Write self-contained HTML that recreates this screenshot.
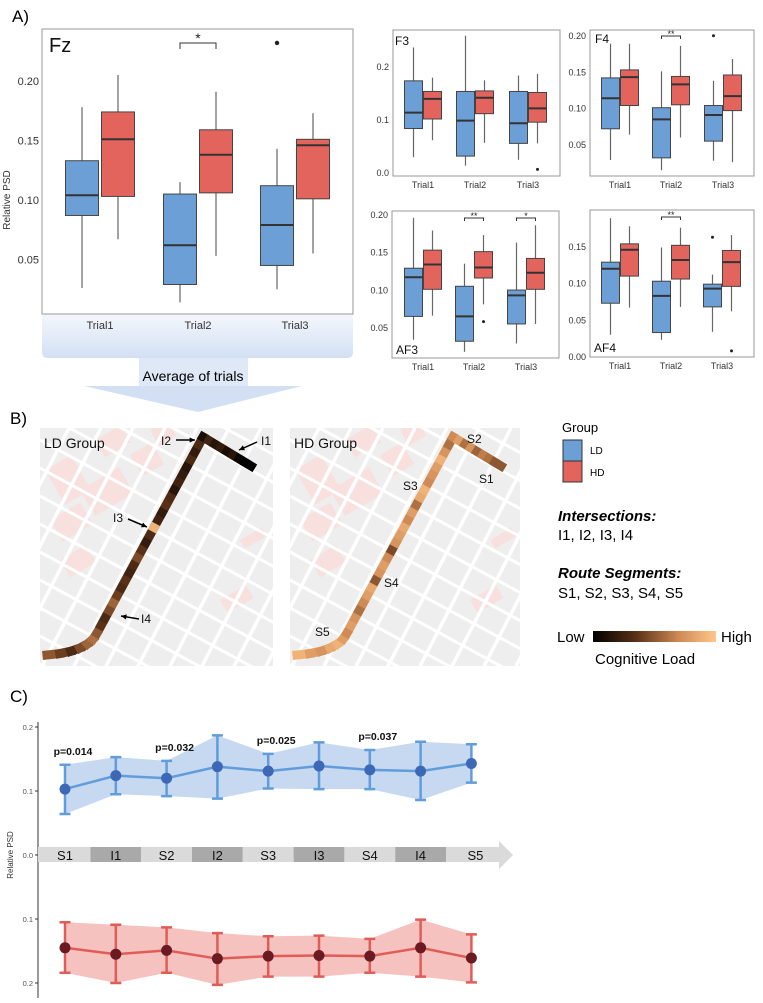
<!DOCTYPE html>
<html><head><meta charset="utf-8">
<style>
html,body{margin:0;padding:0;background:#fff;}
body{width:763px;height:1003px;overflow:hidden;font-family:"Liberation Sans",sans-serif;}
svg{display:block;}
</style></head>
<body>
<svg id="fig" width="763" height="1003" viewBox="0 0 763 1003" xmlns="http://www.w3.org/2000/svg" font-family="Liberation Sans, sans-serif">
<defs>
<linearGradient id="panelGrad" x1="0" y1="0" x2="0" y2="1"><stop offset="0" stop-color="#f4f7fc"/><stop offset="1" stop-color="#d3e0f4"/></linearGradient>
<linearGradient id="loadGrad" x1="0" y1="0" x2="1" y2="0"><stop offset="0" stop-color="#000"/><stop offset="0.35" stop-color="#5a3117"/><stop offset="0.7" stop-color="#d08a55"/><stop offset="1" stop-color="#ffc78a"/></linearGradient>
<clipPath id="clipLD"><rect x="40" y="428" width="233" height="238"/></clipPath>
<clipPath id="clipHD"><rect x="290" y="428" width="230" height="238"/></clipPath>
</defs>
<text x="12" y="22" font-size="17">A)</text>
<text x="10" y="424" font-size="17">B)</text>
<text x="10" y="702" font-size="17">C)</text>
<g>
<path d="M42,314 H353 V352 Q353,358 347,358 H48 Q42,358 42,352 Z" fill="url(#panelGrad)"/>
<rect x="139" y="358" width="109" height="28" fill="#dfe8f7"/>
<polygon points="84,386 302,386 198,412" fill="#d3e0f4"/>
<text x="193" y="381" font-size="14" text-anchor="middle">Average of trials</text>
</g>
<g id="boxes"></g>
<g id="maps"></g>
<g>
<text x="562" y="432" font-size="13">Group</text>
<rect x="563" y="440" width="19" height="21" fill="#6b9fd6" stroke="#333"/>
<rect x="563" y="461" width="19" height="21" fill="#e3645d" stroke="#333"/>
<text x="590" y="454" font-size="10">LD</text>
<text x="590" y="476" font-size="10">HD</text>
<text x="558" y="521" font-size="15" font-weight="bold" font-style="italic">Intersections:</text>
<text x="558" y="540" font-size="15">I1, I2, I3, I4</text>
<text x="558" y="578" font-size="15" font-weight="bold" font-style="italic">Route Segments:</text>
<text x="558" y="598" font-size="15">S1, S2, S3, S4, S5</text>
<text x="557" y="642" font-size="15">Low</text>
<rect x="593" y="631" width="123" height="11" fill="url(#loadGrad)"/>
<text x="721" y="642" font-size="15">High</text>
<text x="595" y="664" font-size="15">Cognitive Load</text>
</g>
<g id="lineChart"></g>
</svg>
<script>
const trials = ["Trial1","Trial2","Trial3"];
const fzLD = [[0.026,0.087,0.104,0.133,0.178],[0.014,0.029,0.062,0.105,0.115],[0.025,0.045,0.079,0.112,0.143]];
const fzHD = [[0.067,0.103,0.151,0.174,0.205],[0.053,0.106,0.138,0.159,0.191],[0.055,0.101,0.146,0.151,0.173]];
const fzOutLD = [[],[],[0.232]];
const fzOutHD = [[],[],[]];
const f3LD = [[0.028,0.082,0.112,0.172,0.235],[0.012,0.030,0.097,0.152,0.257],[0.023,0.054,0.092,0.152,0.182]];
const f3HD = [[0.060,0.100,0.138,0.152,0.178],[0.055,0.110,0.140,0.153,0.173],[0.054,0.094,0.120,0.150,0.185]];
const f3OutLD = [[],[],[]];
const f3OutHD = [[],[],[0.005]];
const f4LD = [[0.028,0.071,0.113,0.141,0.188],[0.014,0.031,0.084,0.100,0.150],[0.027,0.054,0.090,0.103,0.137]];
const f4HD = [[0.063,0.103,0.142,0.152,0.188],[0.059,0.104,0.132,0.143,0.185],[0.025,0.096,0.116,0.145,0.167]];
const f4OutLD = [[],[],[0.199]];
const f4OutHD = [[],[],[]];
const af3LD = [[0.033,0.064,0.116,0.128,0.195],[0.017,0.031,0.064,0.104,0.134],[0.028,0.054,0.092,0.099,0.162]];
const af3HD = [[0.065,0.100,0.133,0.152,0.178],[0.080,0.115,0.129,0.150,0.172],[0.054,0.100,0.122,0.141,0.185]];
const af3OutLD = [[],[],[]];
const af3OutHD = [[],[0.057],[]];
const af4LD = [[0.029,0.072,0.119,0.128,0.188],[0.022,0.032,0.082,0.102,0.148],[0.033,0.067,0.092,0.098,0.111]];
const af4HD = [[0.066,0.109,0.145,0.153,0.177],[0.067,0.105,0.131,0.151,0.175],[0.061,0.095,0.128,0.144,0.165]];
const af4OutLD = [[],[],[0.162]];
const af4OutHD = [[],[],[0.007]];

const segments = ["S1","I1","S2","I2","S3","I3","S4","I4","S5"];
const ldMean = [0.103,0.124,0.120,0.138,0.131,0.139,0.133,0.131,0.143];
const ldLow  = [0.064,0.095,0.092,0.088,0.104,0.103,0.103,0.086,0.113];
const ldHigh = [0.141,0.153,0.147,0.187,0.158,0.176,0.164,0.177,0.173];
const hdMean = [0.145,0.155,0.149,0.162,0.158,0.157,0.158,0.145,0.161];
const hdLow  = [0.105,0.109,0.113,0.122,0.127,0.126,0.131,0.101,0.124];
const hdHigh = [0.184,0.200,0.184,0.203,0.190,0.190,0.184,0.190,0.199];
const pLabels = ["p=0.014","p=0.032","p=0.025","p=0.037"];
const pIndex = [0,2,4,6];
const yTicksC = [0.2,0.1,0.0];

const ldLoad = [0.5,0.4,0.3,0.45,0.55,0.6,0.5,0.35,0.3,0.45,0.55,0.4,0.3,0.35,0.25,0.3,0.45,0.35,0.2,0.3,0.9,0.25,0.2,0.35,0.3,0.15,0.25,0.2,0.15,0.3,0.2,0.3,0.1,0.25,0.15,0.2,0.1,0.15,0.05,0.0];
const hdLoad = [0.9,0.8,0.75,0.85,0.9,0.8,0.7,0.8,0.75,0.6,0.7,0.8,0.85,0.5,0.75,0.8,0.7,0.45,0.75,0.8,0.85,0.7,0.8,0.6,0.85,0.9,0.7,0.75,0.8,0.9,0.75,0.6,0.7,0.8,0.6,0.75,0.55,0.65,0.6,0.5];

const NS="http://www.w3.org/2000/svg";
function mk(tag, attrs, parent){const e=document.createElementNS(NS,tag);for(const k in attrs)e.setAttribute(k,attrs[k]);if(parent)parent.appendChild(e);return e;}
const boxes=document.getElementById('boxes');

function drawPanel(name, frame, yf, centers, off, bw, ld, hd, outLD, outHD, ticks, tickX, tickFont, title, titlePos, brackets){
  const big=tickFont>10;
  const g=mk('g',{},boxes);
  
  
  const fr=mk('rect',{x:frame[0],y:frame[1],width:frame[2],height:frame[3],fill:'#fff',stroke:'#999','stroke-width':1},g);
  
  
  ticks.forEach(t=>{
    const tx=mk('text',{x:tickX,y:yf(t)+4,'font-size':tickFont,'text-anchor':'end',fill:'#333'},g);
    tx.textContent=t.toFixed(name==='f3'?1:2);
    
    
  });
  trials.forEach((tr,i)=>{
    const lb=mk('text',{x:centers[i],y:frame[1]+frame[3]+(big?15:12),'font-size':tickFont,'text-anchor':'middle',fill:'#333'},g);
    lb.textContent=tr;
    
    
    [[ld,outLD,'#6b9fd6',-off,'ld'],[hd,outHD,'#e3645d',off,'hd']].forEach(([d,o,col,dx,gname])=>{
      const s=d[i], cx=centers[i]+dx;
      const wl=mk('line',{x1:cx,x2:cx,y1:yf(s[0]),y2:yf(s[4]),stroke:'#666','stroke-width':1.2},g);
      
      
      const r=mk('rect',{x:cx-bw/2,y:yf(s[3]),width:bw,height:yf(s[1])-yf(s[3]),fill:col,stroke:'#444','stroke-width':1},g);
      
      
      const md=mk('line',{x1:cx-bw/2,x2:cx+bw/2,y1:yf(s[2]),y2:yf(s[2]),stroke:'#333','stroke-width':2},g);
      
      
      o[i].forEach(v=>{
        const c=mk('circle',{cx:cx,cy:yf(v),r:big?2.2:1.5,fill:'#222'},g);
        
        
      });
    });
  });
  const tt=mk('text',{x:titlePos[0],y:titlePos[1],'font-size':big?20:12,fill:'#111'},g);
  tt.textContent=title;
  
  
  brackets.forEach(b=>{
    const i=b[0], y=b[1], h=big?6:3;
    const x1=centers[i]-off, x2=centers[i]+off;
    const p=mk('path',{d:`M${x1},${y+h} V${y} H${x2} V${y+h}`,fill:'none',stroke:'#333','stroke-width':1},g);
    
    
    const st=mk('text',{x:(x1+x2)/2,y:y+(big?0:1),'font-size':big?14:9,'text-anchor':'middle',fill:'#222'},g);
    st.textContent=b[2];
    
    
  });
}
drawPanel('fz',[42,29,311,285],v=>81+(0.20-v)*1190,[100,198,295],18,33,fzLD,fzHD,fzOutLD,fzOutHD,[0.20,0.15,0.10,0.05],39,11,'Fz',[49,52],[[1,43,'*']]);
const yl=mk('text',{x:0,y:0,'font-size':10,'text-anchor':'middle',fill:'#333',transform:'translate(10,200) rotate(-90)'},boxes);
yl.textContent='Relative PSD';


drawPanel('f3',[393,30,167,146],v=>172-v*530,[423,475,528],9.5,18,f3LD,f3HD,f3OutLD,f3OutHD,[0.2,0.1,0.0],389,9,'F3',[395,45],[]);
drawPanel('f4',[590,30,164,146],v=>35+(0.2-v)*727,[620,671,723],9.5,18,f4LD,f4HD,f4OutLD,f4OutHD,[0.20,0.15,0.10,0.05],586,9,'F4',[595,43],[[1,36,'**']]);
drawPanel('af3',[392,211,167,147],v=>214+(0.2-v)*753,[423,474,526],9.5,18,af3LD,af3HD,af3OutLD,af3OutHD,[0.20,0.15,0.10,0.05],388,9,'AF3',[396,354],[[1,218,'**'],[2,218,'*']]);
drawPanel('af4',[590,210,164,147],v=>356-v*733,[620,671,722],9.5,18,af4LD,af4HD,af4OutLD,af4OutHD,[0.15,0.10,0.05,0.00],586,9,'AF4',[594,352],[[1,217,'**']]);

const maps=document.getElementById('maps');
function lerpCol(t){
  const stops=[[0,[0,0,0]],[0.35,[90,49,23]],[0.7,[208,138,85]],[1,[255,199,138]]];
  for(let i=1;i<stops.length;i++){if(t<=stops[i][0]){const a=stops[i-1],b=stops[i];const f=(t-a[0])/(b[0]-a[0]);return 'rgb('+a[1].map((c,k)=>Math.round(c+(b[1][k]-c)*f)).join(',')+')';}}
  return 'rgb(255,199,138)';
}
function drawMap(name, dx, clip, loads, labels){
  const g=mk('g',{'clip-path':'url(#'+clip+')'},maps);
  
  
  mk('rect',{x:40+dx,y:428,width:240,height:240,fill:'#efeeee'},g);
  [[45,470,30,40],[80,490,45,30],[50,520,35,25],[95,440,30,20],[130,455,25,25],[60,560,30,20],[150,430,20,18],[220,600,30,15],[240,540,25,10]].forEach(b=>{
    mk('rect',{x:b[0]+dx,y:b[1],width:b[2],height:b[3],fill:'#f8e0df',transform:`rotate(-30 ${b[0]+dx} ${b[1]})`},g);
  });
  for(let k=-6;k<10;k++){
    mk('line',{x1:40+dx+k*32,y1:670,x2:40+dx+k*32+125,y2:428,stroke:'#fff','stroke-width':3.5},g);
  }
  for(let k=-4;k<12;k++){
    mk('line',{x1:40+dx,y1:440+k*28,x2:280+dx,y2:440+k*28+130,stroke:'#fff','stroke-width':3},g);
  }
  const pts=[];
  const P=[[47,655],[75,648],[97,633],[203,437],[251,466]];
  for(let i=0;i<=6;i++){const t=i/6;const x=(1-t)*(1-t)*P[0][0]+2*(1-t)*t*88+t*t*P[2][0];const y=(1-t)*(1-t)*P[0][1]+2*(1-t)*t*652+t*t*P[2][1];pts.push([x,y]);}
  for(let i=1;i<=26;i++){const t=i/26;pts.push([P[2][0]+(P[3][0]-P[2][0])*t,P[2][1]+(P[3][1]-P[2][1])*t]);}
  for(let i=1;i<=8;i++){const t=i/8;pts.push([P[3][0]+(P[4][0]-P[3][0])*t,P[3][1]+(P[4][1]-P[3][1])*t]);}
  for(let i=0;i<pts.length-1;i++){
    const v=loads[Math.min(i,loads.length-1)];
    const s=mk('line',{x1:pts[i][0]+dx,y1:pts[i][1],x2:pts[i+1][0]+dx,y2:pts[i+1][1],stroke:lerpCol(v),'stroke-width':9,'stroke-linecap':'square'},g);
    
    
  }
  const tl=mk('text',{x:44+dx,y:448,'font-size':14,fill:'#111'},maps);
  tl.textContent=name==='ld'?'LD Group':'HD Group';
  
  
  labels.forEach(l=>{
    const t=mk('text',{x:l[1]+dx,y:l[2],'font-size':12,fill:'#111'},maps);
    t.textContent=l[0];
    
    
    if(l[3]){
      const a=l[3];
      const ln=mk('line',{x1:a[0]+dx,y1:a[1],x2:a[2]+dx,y2:a[3],stroke:'#000','stroke-width':1.5},maps);
      
      
      const ang=Math.atan2(a[3]-a[1],a[2]-a[0]);const hx=a[2]+dx,hy=a[3];
      mk('polygon',{points:`${hx},${hy} ${hx-6*Math.cos(ang-0.45)},${hy-6*Math.sin(ang-0.45)} ${hx-6*Math.cos(ang+0.45)},${hy-6*Math.sin(ang+0.45)}`,fill:'#000'},maps);
    }
  });
}
drawMap('ld',0,'clipLD',ldLoad,[['I2',161,445,[176,440,195,440]],['I1',261,445,[257,442,239,450]],['I3',113,522,[128,519,147,527]],['I4',141,623,[139,619,121,616]]]);
drawMap('hd',250,'clipHD',hdLoad,[['S2',217,443],['S1',229,483],['S3',153,490],['S4',134,587],['S5',65,636]]);

const lc=document.getElementById('lineChart');
const xC=i=>65+i*50.8;
const yUp=v=>855-v*640;
const yDn=v=>855+v*640;
mk('line',{x1:38,y1:722,x2:38,y2:998,stroke:'#333','stroke-width':1},lc);
yTicksC.forEach(t=>{
  [yUp(t), t>0?yDn(t):null].forEach(y=>{
    if(y===null)return;
    mk('line',{x1:35,x2:38,y1:y,y2:y,stroke:'#333'},lc);
    const tx=mk('text',{x:33,y:y+3,'font-size':7.5,'text-anchor':'end',fill:'#555'},lc);
    tx.textContent=t.toFixed(1);
    
    
  });
});
const yc=mk('text',{x:0,y:0,'font-size':8,'text-anchor':'middle',fill:'#333',transform:'translate(13,855) rotate(-90)'},lc);
yc.textContent='Relative PSD';


const arrowG=mk('g',{},lc);


segments.forEach((s,i)=>{
  const x0=i===0?38:xC(i)-25.4, x1=i===segments.length-1?500:xC(i)+25.4;
  const r=mk('rect',{x:x0,y:847,width:x1-x0,height:15,fill:i%2?'#a9a9a9':'#dadada'},arrowG);
  
  
});
mk('polygon',{points:'499,841 513,855 499,869',fill:'#dadada'},arrowG);
segments.forEach((s,i)=>{
  const t=mk('text',{x:xC(i)+(i===segments.length-1?4:0),y:860,'font-size':13,'text-anchor':'middle',fill:'#111'},arrowG);
  t.textContent=s;
  
  
});
function series(name, mean, low, high, yf, band, line, dot){
  const g=mk('g',{},lc);
  
  
  let d='M'+low.map((v,i)=>xC(i)+','+yf(v)).join(' L');
  d+=' L'+high.map((v,i)=>xC(i)+','+yf(v)).reverse().join(' L')+' Z';
  const b=mk('path',{d:d,fill:band},g);
  
  
  const l=mk('polyline',{points:mean.map((v,i)=>xC(i)+','+yf(v)).join(' '),fill:'none',stroke:line,'stroke-width':2.5},g);
  
  
  mean.forEach((v,i)=>{
    const x=xC(i);
    const e=mk('path',{d:`M${x},${yf(low[i])} V${yf(high[i])} M${x-5.5},${yf(low[i])} H${x+5.5} M${x-5.5},${yf(high[i])} H${x+5.5}`,stroke:line,'stroke-width':2.5,fill:'none'},g);
    
    
    const c=mk('circle',{cx:x,cy:yf(v),r:5.5,fill:dot},g);
    
    
  });
}
series('ld',ldMean,ldLow,ldHigh,yUp,'#c6d9f1','#619ddb','#3d68b5');
series('hd',hdMean,hdLow,hdHigh,yDn,'#f5c2c0','#e05d57','#6b1a22');
pLabels.forEach((p,k)=>{
  const i=pIndex[k];
  const t=mk('text',{x:xC(i)+8,y:yUp(ldHigh[i])-10,'font-size':10.5,'font-weight':'bold','text-anchor':'middle',fill:'#111'},lc);
  t.textContent=p;
  
  
});
</script>
</body></html>
